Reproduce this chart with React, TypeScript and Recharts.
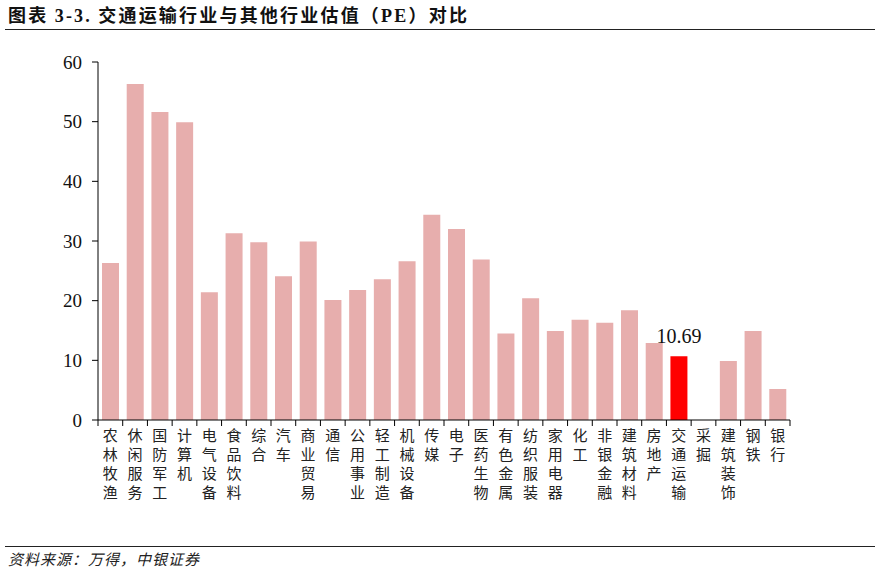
import React from 'react';
import { BarChart, Bar, XAxis, YAxis, Cell, LabelList } from 'recharts';

const industries = [
  '农林牧渔', '休闲服务', '国防军工', '计算机', '电气设备', '食品饮料', '综合', '汽车',
  '商业贸易', '通信', '公用事业', '轻工制造', '机械设备', '传媒', '电子', '医药生物',
  '有色金属', '纺织服装', '家用电器', '化工', '非银金融', '建筑材料', '房地产', '交通运输',
  '采掘', '建筑装饰', '钢铁', '银行',
];
const peValues = [
  26.3, 56.3, 51.6, 49.9, 21.4, 31.3, 29.8, 24.1,
  29.9, 20.1, 21.8, 23.6, 26.6, 34.4, 32.0, 26.9,
  14.5, 20.4, 14.9, 16.8, 16.3, 18.4, 12.9, 10.69,
  0, 9.9, 14.9, 5.2,
];
const yTicks = [0, 10, 20, 30, 40, 50, 60];
const highlight = '交通运输';

const data = industries.map((name, i) => ({ name, pe: peValues[i] }));

const PLOT_LEFT = 98;
const PLOT_RIGHT = 790;
const BAND = (PLOT_RIGHT - PLOT_LEFT) / industries.length;
const serif = '"Liberation Serif", "Times New Roman", serif';
const cjk = '"Noto Sans CJK SC", "Liberation Serif", serif';

// vertical stacked characters, with tick marks between categories
const IndustryTick = (props: any) => {
  const { x, y, payload, index } = props;
  const chars = String(payload.value).split('');
  const left = x - BAND / 2;
  return (
    <g>
      <line x1={left} y1={y} x2={left} y2={y + 6} stroke="#000" strokeWidth={1} />
      {index === industries.length - 1 && (
        <line x1={x + BAND / 2} y1={y} x2={x + BAND / 2} y2={y + 6} stroke="#000" strokeWidth={1} />
      )}
      {chars.map((c, i) => (
        <text
          key={i}
          x={x}
          y={y + 14 + i * 19}
          textAnchor="middle"
          dominantBaseline="central"
          fontSize={15}
          fontFamily={cjk}
          fill="#222"
        >
          {c}
        </text>
      ))}
    </g>
  );
};

const HighlightLabel = (props: any) => {
  const { x, y, width, index } = props;
  if (industries[index] !== highlight) return null;
  return (
    <text x={x + width / 2} y={y - 13} textAnchor="middle" fontSize={20} fontFamily={serif} fill="#111">
      {peValues[index].toFixed(2)}
    </text>
  );
};

const App = () => {
  return (
    <div style={{ position: 'absolute', left: 0, top: 0, width: 880, height: 573, background: '#fff' }}>
      <div
        style={{
          position: 'absolute', left: 8, top: 3, fontSize: 18, fontWeight: 'bold', letterSpacing: 2.2,
          fontFamily: cjk, color: '#111', whiteSpace: 'nowrap', lineHeight: '22px',
        }}
      >
        图表 <span style={{ fontFamily: serif }}>3-3.</span> 交通运输行业与其他行业估值（<span style={{ fontFamily: serif }}>PE</span>）对比
      </div>
      <div style={{ position: 'absolute', left: 5, top: 29, width: 870, height: 1, background: '#222' }} />
      <BarChart
        width={880}
        height={573}
        data={data}
        margin={{ top: 62, right: 880 - PLOT_RIGHT, left: PLOT_LEFT - 60, bottom: 53 }}
        barSize={17}
      >
        <YAxis
          width={60}
          domain={[0, 60]}
          ticks={yTicks}
          interval={0}
          axisLine={{ stroke: '#000' }}
          tickLine={{ stroke: '#000' }}
          tickSize={6}
          tickMargin={10}
          tick={{ fontSize: 19, fontFamily: serif, fill: '#111' }}
        />
        <XAxis
          dataKey="name"
          height={100}
          interval={0}
          axisLine={{ stroke: '#000' }}
          tickLine={false}
          tickSize={0}
          tickMargin={0}
          tick={<IndustryTick />}
        />
        <Bar dataKey="pe" isAnimationActive={false}>
          {data.map((d) => (
            <Cell key={d.name} fill={d.name === highlight ? '#FF0000' : '#E7AEAD'} />
          ))}
          <LabelList dataKey="pe" content={<HighlightLabel />} />
        </Bar>
      </BarChart>
      <div style={{ position: 'absolute', left: 5, top: 546, width: 870, height: 1, background: '#222' }} />
      <div
        style={{
          position: 'absolute', left: 8, top: 549, fontSize: 15, fontStyle: 'italic', fontFamily: cjk,
          color: '#222', whiteSpace: 'nowrap', lineHeight: '20px', letterSpacing: 1,
        }}
      >
        资料来源：万得，中银证券
      </div>
    </div>
  );
};

export default App;
